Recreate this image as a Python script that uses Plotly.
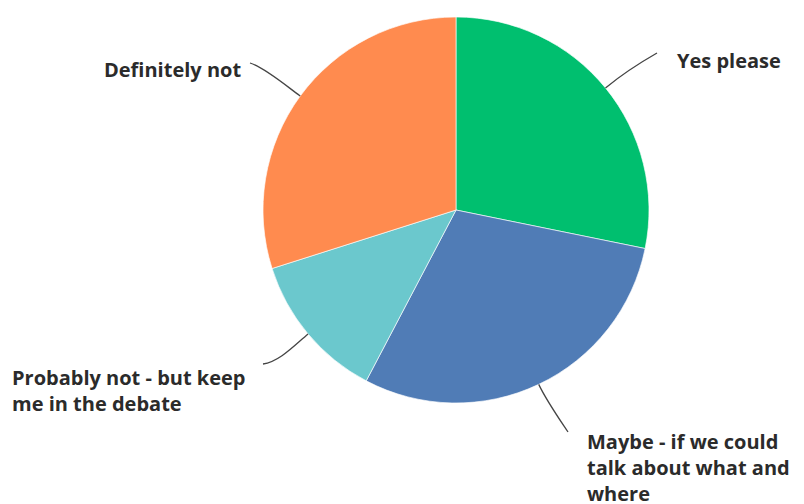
import math
import plotly.graph_objects as go

# Survey answers, clockwise from 12 o'clock
labels = ["Yes please",
          "Maybe - if we could talk about what and where",
          "Probably not - but keep me in the debate",
          "Definitely not"]
values = [28.2, 29.5, 12.4, 29.9]
colors = ["#00BF6F", "#507CB6", "#6BC8CD", "#FF8B4F"]

# Text shown next to each slice (line breaks as drawn)
label_text = ["Yes please",
              "Maybe - if we could<br>talk about what and<br>where",
              "Probably not - but keep<br>me in the debate",
              "Definitely not"]

W, H = 804, 504
cx, cy, R = 456, 210, 193  # pie centre and radius in pixels

fig = go.Figure(go.Pie(
    labels=labels,
    values=values,
    sort=False,
    direction="clockwise",
    rotation=0,
    marker=dict(colors=colors, line=dict(color="rgba(255,255,255,0.8)", width=0.8)),
    textinfo="none",
    hoverinfo="label+percent",
    showlegend=False,
    domain=dict(x=[(cx - R) / W, (cx + R) / W],
                y=[(H - cy - R) / H, (H - cy + R) / H]),
))

# Label placement: (x, block-centre y, xanchor, leader end x, end y, end handle dx, dy)
label_pos = [
    (676, 60, "left", 657, 53, -14, 8),
    (586, 467, "left", 568, 432, -8, -12),
    (11, 390, "left", 263, 364, 16, -2),
    (242, 70, "right", 250, 63, 14, 4),
]

def px(x, y):
    return x / W, 1 - y / H

total = sum(values)
cum = 0.0
shapes = []
annotations = []
for v, txt, pos in zip(values, label_text, label_pos):
    mid = (cum + v / 2) / total * 2 * math.pi
    cum += v
    sx, sy = cx + R * math.sin(mid), cy - R * math.cos(mid)
    dx, dy = math.sin(mid), -math.cos(mid)
    lx, ly, anchor, ex, ey, hx, hy = pos
    c1 = (sx + dx * 18, sy + dy * 18)
    c2 = (ex + hx, ey + hy)
    p0, p1, p2, p3 = px(sx, sy), px(*c1), px(*c2), px(ex, ey)
    path = (f"M {p0[0]},{p0[1]} C {p1[0]},{p1[1]} {p2[0]},{p2[1]} {p3[0]},{p3[1]}")
    shapes.append(dict(type="path", xref="paper", yref="paper", path=path,
                       line=dict(color="#454545", width=1.3)))
    ax, ay = px(lx, ly)
    annotations.append(dict(x=ax, y=ay, xref="paper", yref="paper",
                            text=txt, showarrow=False, xanchor=anchor,
                            yanchor="middle", align="left", borderpad=0,
                            font=dict(family="Open Sans", size=20, color="#2b2b2b",
                                      weight=700)))

fig.update_layout(
    width=W, height=H,
    margin=dict(l=0, r=0, t=0, b=0),
    paper_bgcolor="white",
    plot_bgcolor="white",
    shapes=shapes,
    annotations=annotations,
)

fig.write_html("out.html")
